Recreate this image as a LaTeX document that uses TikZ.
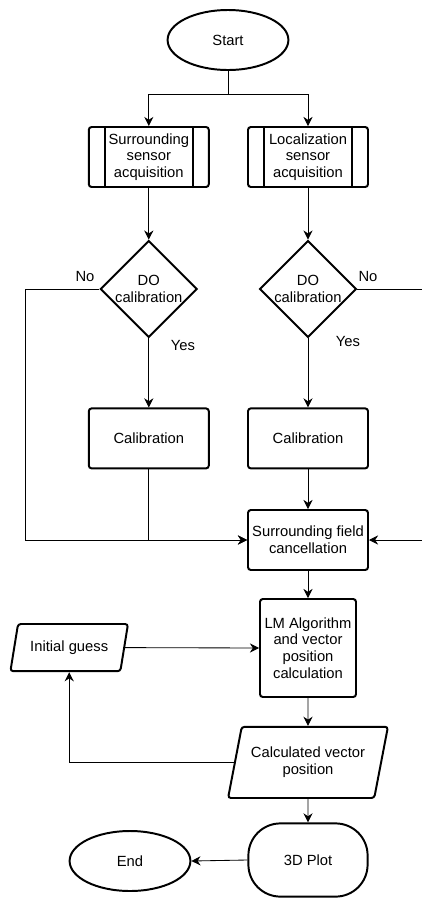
\documentclass[tikz,border=0pt]{standalone}
\usepackage{fontspec}
\setmainfont{Liberation Sans}
\usetikzlibrary{arrows.meta,calc,positioning,shapes.geometric}

\tikzset{
  base/.style={draw, line width=1.4pt, align=center, font=\fontsize{10.5}{11.8}\selectfont, inner sep=1pt},
  terminal/.style={base, ellipse, minimum width=3.02cm, minimum height=1.5cm},
  subproc/.style={base, rectangle, rounded corners=2pt, minimum width=3cm, minimum height=1.5cm},
  process/.style={base, rectangle, rounded corners=2pt, minimum width=3cm, minimum height=1.5cm},
  decision/.style={base, diamond, minimum width=2.42cm, minimum height=2.42cm, inner sep=0pt},
  io/.style={base, trapezium, trapezium left angle=70, trapezium right angle=110, trapezium stretches=true, rounded corners=2pt},
  display/.style={base, rectangle, rounded corners=0.8cm, minimum width=2.98cm, minimum height=1.83cm},
  arr/.style={-{Stealth[length=6.5pt,width=6.5pt]}, line width=0.6pt},
  link/.style={line width=0.6pt},
  lbl/.style={font=\fontsize{10.5}{12}\selectfont, inner sep=0pt}
}

\begin{document}
\begin{tikzpicture}
    \useasboundingbox (0,0) rectangle (10.525,-22.45);

    % Start and the two sensor branches
    \node[terminal] (start) at (5.7,-1.0) {Start};
    \node[subproc] (surr) at (3.72,-3.925) {Surrounding\\sensor\\acquisition};
    \node[subproc] (loc) at (7.7,-3.925) {Localization\\sensor\\acquisition};
    \foreach \n in {surr,loc} {
        \draw[line width=1.4pt] ([xshift=0.425cm]\n.north west) -- ([xshift=0.425cm]\n.south west);
        \draw[line width=1.4pt] ([xshift=-0.425cm]\n.north east) -- ([xshift=-0.425cm]\n.south east);
    }
    \draw[arr] (start.south) -- ++(0,-0.575) -| (surr.north);
    \draw[arr] (start.south) -- ++(0,-0.575) -| (loc.north);

    % Calibration decisions
    \node[decision] (decl) at (3.72,-7.225) {DO\\calibration};
    \node[decision] (decr) at (7.7,-7.225) {DO\\calibration};
    \draw[arr] (surr.south) -- (decl.north);
    \draw[arr] (loc.south) -- (decr.north);

    \node[process] (call) at (3.72,-10.96) {Calibration};
    \node[process] (calr) at (7.7,-10.96) {Calibration};
    \draw[arr] (decl.south) -- (call.north);
    \draw[arr] (decr.south) -- (calr.north);
    \node[lbl] (yesl) at (4.575,-8.625) {Yes};
    \node[lbl] (yesr) at (8.7,-8.525) {Yes};
    \node[lbl] (nol) at (2.125,-6.9) {No};
    \node[lbl] (nor) at (9.2,-6.9) {No};

    % Field cancellation
    \node[process] (cancel) at (7.7,-13.5) {Surrounding field\\cancellation};
    \draw[arr] (decl.west) -- ++(-1.85,0) |- (cancel.west);
    \draw[arr] (call.south) |- (cancel.west);
    \draw[arr] (calr.south) -- (cancel.north);
    \draw[arr] (decr.east) -- ++(3.5,0) |- (cancel.east);

    % Solver loop
    \node[process, minimum width=2.4cm, minimum height=2.45cm] (lm) at (7.7,-16.2) {LM Algorithm\\and vector\\position\\calculation};
    \node[io, minimum width=2.95cm, minimum height=1.18cm] (guess) at (1.73,-16.19) {Initial guess};
    \node[io, minimum width=4.03cm, minimum height=1.78cm] (vecpos) at (7.7,-19.06) {Calculated vector\\position};
    \draw[arr] (cancel.south) -- (lm.north);
    \draw[arr] (guess.east) -- (lm.west);
    \draw[arr] (lm.south) -- (vecpos.north);
    \draw[arr] (vecpos.west) -| (guess.south);

    % Output
    \node[display] (plot) at (7.7,-21.5) {3D Plot};
    \node[terminal] (finish) at (3.25,-21.525) {End};
    \draw[arr] (vecpos.south) -- (plot.north);
    \draw[arr] (plot.west) -- (finish.east);
\end{tikzpicture}
\end{document}
